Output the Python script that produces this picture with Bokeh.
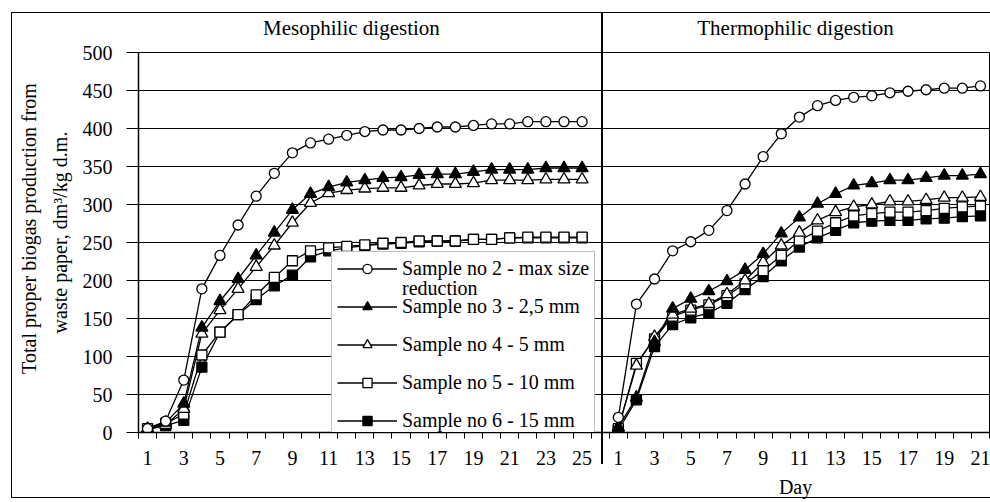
from bokeh.plotting import figure
from bokeh.models import (Range1d, FixedTicker, Legend, LegendItem,
                          LinearAxis, ColumnDataSource)
from bokeh.embed import file_html
from bokeh.resources import INLINE

# ---------------- data ----------------
meso_days = list(range(1, 26))
thermo_days = list(range(1, 22))

series_names = [
    "Sample no 2 - max size",
    "Sample no 3 - 2,5 mm",
    "Sample no 4 - 5 mm",
    "Sample no 5 - 10 mm",
    "Sample no 6 - 15 mm",
]
legend_extra_line = "reduction"

meso_s2 = [5, 15, 69, 189, 233, 273, 311, 341, 368, 381, 386, 391, 396, 398, 398, 400, 402, 402, 404, 406, 406, 409, 409, 409, 409]
meso_s3 = [5, 13, 38, 138, 173, 202, 233, 263, 293, 314, 323, 329, 332, 335, 336, 339, 340, 340, 343, 346, 346, 346, 348, 348, 348]
meso_s4 = [4, 10, 31, 130, 161, 189, 218, 246, 276, 302, 315, 319, 321, 322, 322, 325, 327, 327, 328, 332, 332, 332, 333, 333, 333]
meso_s5 = [5, 12, 24, 102, 132, 155, 181, 204, 226, 239, 243, 245, 247, 249, 250, 252, 252, 252, 254, 254, 256, 257, 257, 257, 257]
meso_s6 = [4, 9, 16, 86, 132, 155, 175, 193, 207, 231, 239, 243, 246, 248, 249, 251, 252, 252, 254, 254, 256, 256, 256, 256, 256]

thermo_s2 = [20, 169, 202, 239, 251, 266, 292, 327, 363, 393, 415, 430, 437, 441, 443, 447, 449, 451, 453, 453, 456]
thermo_s3 = [7, 46, 119, 163, 176, 186, 199, 214, 235, 262, 283, 301, 314, 325, 328, 332, 332, 335, 338, 338, 340]
thermo_s4 = [6, 88, 126, 155, 163, 169, 182, 200, 224, 246, 263, 279, 290, 297, 300, 304, 304, 306, 309, 309, 310]
thermo_s5 = [5, 91, 123, 153, 161, 168, 180, 196, 213, 233, 253, 265, 276, 285, 288, 290, 290, 292, 295, 297, 298]
thermo_s6 = [3, 43, 113, 142, 151, 157, 170, 188, 205, 226, 244, 256, 266, 276, 278, 279, 279, 281, 282, 284, 285]

y_ticks = [0, 50, 100, 150, 200, 250, 300, 350, 400, 450, 500]

panel_titles = ["Mesophilic digestion", "Thermophilic digestion"]
x_title = "Day"
y_title_lines = ["Total proper biogas production from", "waste paper, dm\u00b3/kg d.m."]

# ---------------- layout ----------------
FONT = "Liberation Serif"
W, H = 990, 502
FL, FR, FT, FB = 138, 989, 52, 432   # frame edges in px

n_meso = len(meso_days)
gap = 1
x_end = n_meso + gap + len(thermo_days)
x_meso = [d - 0.5 for d in meso_days]
x_thermo = [n_meso + gap + d - 0.5 for d in thermo_days]


def dx(px):
    return round((px - FL) / (FR - FL) * x_end, 2)


def dy(py):
    return round((FB - py) / (FB - FT) * y_ticks[-1], 2)


# outer chart border and panel divider (drawn as page background behind a transparent canvas)
bg = ", ".join([
    "linear-gradient(#000,#000) 11px 12px / 1px 486px no-repeat",
    "linear-gradient(#000,#000) 11px 12px / 979px 1px no-repeat",
    "linear-gradient(#000,#000) 11px 497px / 979px 1px no-repeat",
    "linear-gradient(#000,#000) 601px 12px / 2px 452px no-repeat",
    "#ffffff",
])

p = figure(width=W, height=H, x_range=Range1d(0, x_end), y_range=Range1d(0, y_ticks[-1]),
           output_backend="svg", toolbar_location=None,
           min_border_left=FL, min_border_right=W - FR, min_border_top=FT, min_border_bottom=H - FB)
p.styles = {"background": bg}
p.background_fill_color = None
p.border_fill_color = None
p.outline_line_color = "black"
p.outline_line_width = 1

# grid
p.xgrid.visible = False
p.ygrid.ticker = FixedTicker(ticks=y_ticks)
p.ygrid.grid_line_color = "black"
p.ygrid.grid_line_width = 1

# y axis
p.yaxis.ticker = FixedTicker(ticks=y_ticks)
p.yaxis.axis_line_color = "black"
p.yaxis.axis_line_width = 1.5
p.yaxis.major_tick_in = 0
p.yaxis.major_tick_out = 12
p.yaxis.major_tick_line_color = "black"
p.yaxis.minor_tick_line_color = None
p.yaxis.major_label_standoff = 14
p.yaxis.major_label_text_font = FONT
p.yaxis.major_label_text_font_size = "20px"
p.yaxis.major_label_text_color = "black"

# x axis: labels at category centres (odd days), tick marks at category boundaries
label_pos = [x for x, d in zip(x_meso, meso_days) if d % 2 == 1] + \
            [x for x, d in zip(x_thermo, thermo_days) if d % 2 == 1]
label_txt = [str(d) for d in meso_days if d % 2 == 1] + [str(d) for d in thermo_days if d % 2 == 1]
boundaries = list(range(0, n_meso + 1)) + list(range(n_meso + gap, x_end + 1))
p.xaxis.ticker = FixedTicker(ticks=label_pos, minor_ticks=boundaries)
p.xaxis.major_label_overrides = {pos: t for pos, t in zip(label_pos, label_txt)}
p.xaxis.major_tick_in = 0
p.xaxis.major_tick_out = 0
p.xaxis.minor_tick_in = 0
p.xaxis.minor_tick_out = 6
p.xaxis.minor_tick_line_color = "black"
p.xaxis.axis_line_color = "black"
p.xaxis.axis_line_width = 1.5
p.xaxis.major_label_standoff = 12
p.xaxis.major_label_text_font = FONT
p.xaxis.major_label_text_font_size = "20px"
p.xaxis.major_label_text_color = "black"


def text_axis(ticks, texts, size, standoff, orientation="horizontal"):
    ax = LinearAxis(ticker=FixedTicker(ticks=ticks),
                    major_label_overrides={t: s for t, s in zip(ticks, texts)},
                    axis_line_color=None, major_tick_line_color=None, minor_tick_line_color=None,
                    major_label_standoff=standoff, major_label_orientation=orientation,
                    major_label_text_font=FONT, major_label_text_font_size=size,
                    major_label_text_color="black")
    return ax


# panel titles (above), x title under the thermophilic panel, two-line y title
p.add_layout(text_axis([dx(351), dx(795)], panel_titles, "21px", 7), "above")
p.add_layout(text_axis([dx(795)], [x_title], "20px", 2), "below")
p.add_layout(text_axis([dy(232)], [y_title_lines[1]], "20px", 2, "vertical"), "left")
p.add_layout(text_axis([dy(228)], [y_title_lines[0]], "20px", 0, "vertical"), "left")

# series
meso_all = [meso_s2, meso_s3, meso_s4, meso_s5, meso_s6]
thermo_all = [thermo_s2, thermo_s3, thermo_s4, thermo_s5, thermo_s6]
markers = ["circle", "triangle", "triangle", "square", "square"]
fills = ["white", "black", "white", "white", "black"]
sizes = [10, 12, 12, 10, 10]

renderers = []
for m, t, mk, fc, sz in zip(meso_all, thermo_all, markers, fills, sizes):
    xs = x_meso + [float("nan")] + x_thermo
    ys = m + [float("nan")] + t
    src = ColumnDataSource(dict(x=xs, y=ys))
    lr = p.line("x", "y", source=src, line_color="black", line_width=1.3)
    renderers.append([lr, src, mk, fc, sz])

scatter_r = []
for lr, src, mk, fc, sz in renderers[::-1]:
    sr = p.scatter("x", "y", source=src, marker=mk, size=sz, fill_color=fc,
                   line_color="black", line_width=1.3)
    scatter_r.append(sr)
scatter_r = scatter_r[::-1]

items = [LegendItem(label=name, renderers=[r[0], s]) for name, r, s in zip(series_names, renderers, scatter_r)]
legend = Legend(items=items, location=(193, -6), padding=5, spacing=15,
                label_height=23, glyph_height=23, glyph_width=60, label_standoff=5,
                label_text_font=FONT, label_text_font_size="20px", label_text_color="black",
                border_line_color="#808080", border_line_width=1,
                background_fill_color="white", background_fill_alpha=1.0, margin=0)
p.add_layout(legend)

# second line of the first legend label, as a text-only legend on top
blank = p.line([], [], line_alpha=0)
legend2 = Legend(items=[LegendItem(label=legend_extra_line, renderers=[blank])],
                 location=(262, 132), padding=0, spacing=0, margin=0,
                 label_height=20, glyph_height=20, glyph_width=1, label_standoff=1,
                 label_text_font=FONT, label_text_font_size="20px", label_text_color="black",
                 border_line_color=None, background_fill_alpha=0)
p.add_layout(legend2)

open("out.html", "w").write(file_html(p, INLINE))
